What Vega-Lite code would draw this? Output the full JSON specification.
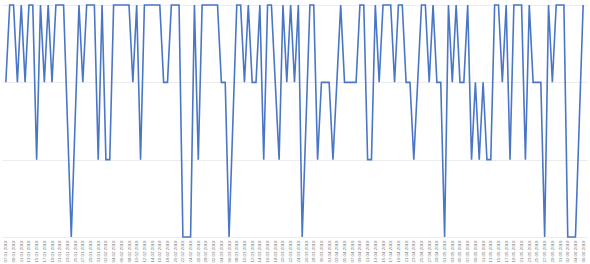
{
  "$schema": "https://vega.github.io/schema/vega-lite/v6.json",
  "width": 585,
  "height": 232,
  "autosize": {"type": "none"},
  "padding": {"left": 2, "top": 5, "right": 3, "bottom": 27},
  "background": "white",
  "config": {"view": {"stroke": null}},
  "data": {"values": [
    {"d":"07.01.2019","v":2},{"d":"08.01.2019","v":3},{"d":"09.01.2019","v":3},{"d":"10.01.2019","v":2},{"d":"11.01.2019","v":3},{"d":"12.01.2019","v":2},{"d":"13.01.2019","v":3},{"d":"14.01.2019","v":3},{"d":"15.01.2019","v":1},{"d":"16.01.2019","v":3},
    {"d":"17.01.2019","v":2},{"d":"18.01.2019","v":3},{"d":"19.01.2019","v":2},{"d":"20.01.2019","v":3},{"d":"21.01.2019","v":3},{"d":"22.01.2019","v":3},{"d":"23.01.2019","v":1.5},{"d":"24.01.2019","v":0},{"d":"25.01.2019","v":1.5},{"d":"26.01.2019","v":3},
    {"d":"27.01.2019","v":2},{"d":"28.01.2019","v":3},{"d":"29.01.2019","v":3},{"d":"30.01.2019","v":3},{"d":"31.01.2019","v":1},{"d":"01.02.2019","v":3},{"d":"02.02.2019","v":1},{"d":"03.02.2019","v":1},{"d":"04.02.2019","v":3},{"d":"05.02.2019","v":3},
    {"d":"06.02.2019","v":3},{"d":"07.02.2019","v":3},{"d":"08.02.2019","v":3},{"d":"09.02.2019","v":2},{"d":"10.02.2019","v":3},{"d":"11.02.2019","v":1},{"d":"12.02.2019","v":3},{"d":"13.02.2019","v":3},{"d":"14.02.2019","v":3},{"d":"15.02.2019","v":3},
    {"d":"16.02.2019","v":3},{"d":"17.02.2019","v":2},{"d":"18.02.2019","v":2},{"d":"19.02.2019","v":3},{"d":"20.02.2019","v":3},{"d":"21.02.2019","v":3},{"d":"22.02.2019","v":0},{"d":"23.02.2019","v":0},{"d":"24.02.2019","v":0},{"d":"25.02.2019","v":3},
    {"d":"26.02.2019","v":1},{"d":"27.02.2019","v":3},{"d":"28.02.2019","v":3},{"d":"01.03.2019","v":3},{"d":"02.03.2019","v":3},{"d":"03.03.2019","v":3},{"d":"04.03.2019","v":2},{"d":"05.03.2019","v":2},{"d":"06.03.2019","v":0},{"d":"07.03.2019","v":1.5},
    {"d":"08.03.2019","v":3},{"d":"09.03.2019","v":3},{"d":"10.03.2019","v":2},{"d":"11.03.2019","v":3},{"d":"12.03.2019","v":2},{"d":"13.03.2019","v":2},{"d":"14.03.2019","v":3},{"d":"15.03.2019","v":1},{"d":"16.03.2019","v":3},{"d":"17.03.2019","v":3},
    {"d":"18.03.2019","v":2},{"d":"19.03.2019","v":1},{"d":"20.03.2019","v":3},{"d":"21.03.2019","v":2},{"d":"22.03.2019","v":3},{"d":"23.03.2019","v":2},{"d":"24.03.2019","v":3},{"d":"25.03.2019","v":0},{"d":"26.03.2019","v":1.5},{"d":"27.03.2019","v":3},
    {"d":"28.03.2019","v":3},{"d":"29.03.2019","v":1},{"d":"30.03.2019","v":2},{"d":"31.03.2019","v":2},{"d":"01.04.2019","v":2},{"d":"02.04.2019","v":1},{"d":"03.04.2019","v":2},{"d":"04.04.2019","v":3},{"d":"05.04.2019","v":2},{"d":"06.04.2019","v":2},
    {"d":"07.04.2019","v":2},{"d":"08.04.2019","v":2},{"d":"09.04.2019","v":3},{"d":"10.04.2019","v":3},{"d":"11.04.2019","v":1},{"d":"12.04.2019","v":1},{"d":"13.04.2019","v":3},{"d":"14.04.2019","v":2},{"d":"15.04.2019","v":3},{"d":"16.04.2019","v":3},
    {"d":"17.04.2019","v":3},{"d":"18.04.2019","v":2},{"d":"19.04.2019","v":3},{"d":"20.04.2019","v":3},{"d":"21.04.2019","v":2},{"d":"22.04.2019","v":2},{"d":"23.04.2019","v":1},{"d":"24.04.2019","v":2},{"d":"25.04.2019","v":3},{"d":"26.04.2019","v":3},
    {"d":"27.04.2019","v":2},{"d":"28.04.2019","v":3},{"d":"29.04.2019","v":2},{"d":"30.04.2019","v":2},{"d":"01.05.2019","v":0},{"d":"02.05.2019","v":3},{"d":"03.05.2019","v":2},{"d":"04.05.2019","v":3},{"d":"05.05.2019","v":2},{"d":"06.05.2019","v":2},
    {"d":"07.05.2019","v":3},{"d":"08.05.2019","v":1},{"d":"09.05.2019","v":2},{"d":"10.05.2019","v":1},{"d":"11.05.2019","v":2},{"d":"12.05.2019","v":1},{"d":"13.05.2019","v":1},{"d":"14.05.2019","v":3},{"d":"15.05.2019","v":3},{"d":"16.05.2019","v":2},
    {"d":"17.05.2019","v":3},{"d":"18.05.2019","v":1},{"d":"19.05.2019","v":3},{"d":"20.05.2019","v":3},{"d":"21.05.2019","v":3},{"d":"22.05.2019","v":1},{"d":"23.05.2019","v":3},{"d":"24.05.2019","v":2},{"d":"25.05.2019","v":2},{"d":"26.05.2019","v":2},
    {"d":"27.05.2019","v":0},{"d":"28.05.2019","v":3},{"d":"29.05.2019","v":2},{"d":"30.05.2019","v":3},{"d":"31.05.2019","v":3},{"d":"01.06.2019","v":3},{"d":"02.06.2019","v":0},{"d":"03.06.2019","v":0},{"d":"04.06.2019","v":0},{"d":"05.06.2019","v":1.5},
    {"d":"06.06.2019","v":3}
  ]},
  "mark": {"type": "line", "color": "#4a76c6", "strokeWidth": 1.6, "clip": false},
  "encoding": {
    "x": {
      "field": "d", "type": "ordinal", "sort": null,
      "scale": {"type": "point", "padding": 1.2},
      "axis": {
        "title": null, "grid": false, "ticks": false, "domain": false,
        "labelAngle": -90, "labelFontSize": 4.4, "labelFont": "Liberation Sans",
        "labelColor": "#777777", "labelPadding": 3, "labelOverlap": false,
        "values": ["07.01.2019","09.01.2019","11.01.2019","13.01.2019","15.01.2019","17.01.2019","19.01.2019","21.01.2019","23.01.2019","25.01.2019","27.01.2019","29.01.2019","31.01.2019",
          "02.02.2019","04.02.2019","06.02.2019","08.02.2019","10.02.2019","12.02.2019","14.02.2019","16.02.2019","18.02.2019","20.02.2019","22.02.2019","24.02.2019","26.02.2019","28.02.2019",
          "02.03.2019","04.03.2019","06.03.2019","08.03.2019","10.03.2019","12.03.2019","14.03.2019","16.03.2019","18.03.2019","20.03.2019","22.03.2019","24.03.2019","26.03.2019","28.03.2019","30.03.2019",
          "01.04.2019","03.04.2019","05.04.2019","07.04.2019","09.04.2019","11.04.2019","13.04.2019","15.04.2019","17.04.2019","19.04.2019","21.04.2019","23.04.2019","25.04.2019","27.04.2019","29.04.2019",
          "01.05.2019","03.05.2019","05.05.2019","07.05.2019","09.05.2019","11.05.2019","13.05.2019","15.05.2019","17.05.2019","19.05.2019","21.05.2019","23.05.2019","25.05.2019","27.05.2019","29.05.2019","31.05.2019",
          "02.06.2019","04.06.2019","06.06.2019"]
      }
    },
    "y": {
      "field": "v", "type": "quantitative",
      "scale": {"domain": [0, 3], "nice": false, "zero": true},
      "axis": {
        "title": null, "labels": false, "ticks": false, "domain": false,
        "grid": true, "gridColor": "#ececec", "gridWidth": 1, "values": [0, 1, 2, 3]
      }
    }
  }
}
